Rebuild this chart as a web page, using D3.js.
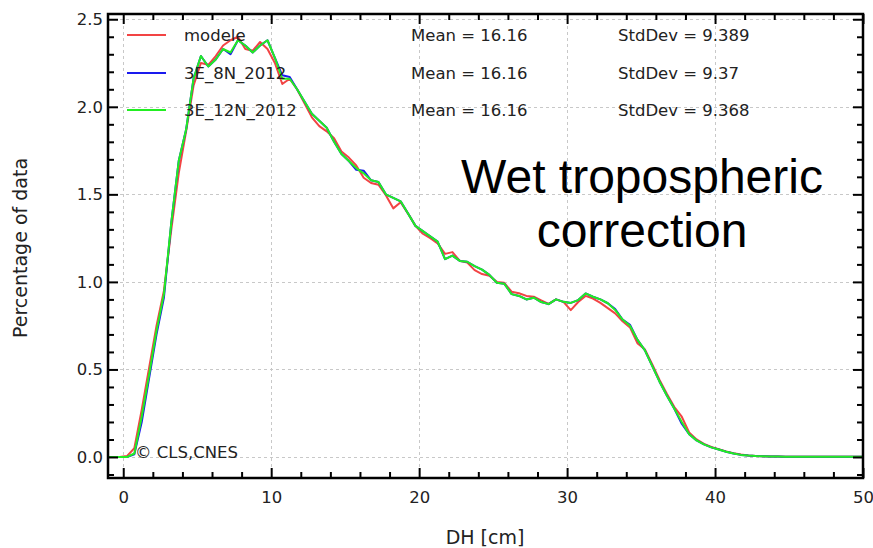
<!DOCTYPE html>
<html><head><meta charset="utf-8">
<script src="https://cdn.jsdelivr.net/npm/d3@7"></script>
<style>
html,body{margin:0;padding:0;background:#fff;}
</style></head>
<body><svg id="c" width="873" height="548"></svg>
<script>
// ---- data ----
const binCenters = [-1.25,-0.75,-0.25,0.25,0.75,1.25,1.75,2.25,2.75,3.25,3.75,4.25,4.75,5.25,5.75,6.25,6.75,7.25,7.75,8.25,8.75,9.25,9.75,10.25,10.75,11.25,11.75,12.25,12.75,13.25,13.75,14.25,14.75,15.25,15.75,16.25,16.75,17.25,17.75,18.25,18.75,19.25,19.75,20.25,20.75,21.25,21.75,22.25,22.75,23.25,23.75,24.25,24.75,25.25,25.75,26.25,26.75,27.25,27.75,28.25,28.75,29.25,29.75,30.25,30.75,31.25,31.75,32.25,32.75,33.25,33.75,34.25,34.75,35.25,35.75,36.25,36.75,37.25,37.75,38.25,38.75,39.25,39.75,40.25,40.75,41.25,41.75,42.25,42.75,43.25,43.75,44.25,44.75,45.25,45.75,46.25,46.75,47.25,47.75,48.25,48.75,49.25,49.75,50.25];

const modele = [0,0,0,0.005,0.05,0.27,0.51,0.75,0.95,1.30,1.62,1.86,2.12,2.25,2.24,2.29,2.35,2.38,2.40,2.33,2.32,2.37,2.33,2.25,2.13,2.16,2.10,2.02,1.94,1.89,1.86,1.82,1.745,1.71,1.665,1.595,1.565,1.555,1.495,1.42,1.455,1.39,1.32,1.275,1.25,1.22,1.16,1.17,1.12,1.11,1.067,1.045,1.035,1.0,0.995,0.944,0.935,0.92,0.915,0.895,0.875,0.90,0.886,0.839,0.885,0.92,0.905,0.88,0.85,0.82,0.775,0.74,0.65,0.615,0.53,0.44,0.36,0.285,0.23,0.14,0.10,0.075,0.057,0.045,0.032,0.022,0.014,0.009,0.005,0.004,0.003,0.003,0.002,0.002,0.002,0.001,0.001,0.001,0.001,0.001,0.001,0.001,0.001,0.001];

const e3_8N_2012 = [0,0,0,0,0.015,0.20,0.45,0.70,0.91,1.34,1.69,1.87,2.16,2.29,2.23,2.27,2.33,2.30,2.38,2.35,2.31,2.35,2.38,2.28,2.18,2.17,2.10,2.03,1.96,1.92,1.88,1.80,1.73,1.69,1.64,1.635,1.58,1.57,1.50,1.48,1.46,1.39,1.32,1.29,1.26,1.23,1.13,1.15,1.12,1.115,1.09,1.07,1.04,0.995,0.99,0.93,0.92,0.90,0.91,0.885,0.873,0.90,0.886,0.88,0.896,0.934,0.915,0.90,0.878,0.845,0.785,0.755,0.67,0.61,0.52,0.43,0.35,0.275,0.19,0.13,0.095,0.072,0.055,0.043,0.03,0.02,0.012,0.008,0.005,0.004,0.003,0.003,0.002,0.002,0.002,0.001,0.001,0.001,0.001,0.001,0.001,0.001,0.001,0.001];

const e3_12N_2012 = [0,0,0,0,0.02,0.23,0.47,0.72,0.93,1.34,1.69,1.87,2.16,2.29,2.23,2.27,2.33,2.31,2.38,2.35,2.31,2.35,2.38,2.28,2.16,2.16,2.10,2.03,1.96,1.92,1.88,1.80,1.73,1.69,1.65,1.62,1.58,1.57,1.50,1.48,1.46,1.39,1.32,1.29,1.26,1.23,1.13,1.15,1.12,1.115,1.09,1.07,1.04,0.995,0.99,0.93,0.92,0.90,0.91,0.885,0.873,0.90,0.886,0.88,0.896,0.934,0.915,0.90,0.878,0.84,0.785,0.75,0.67,0.61,0.52,0.43,0.35,0.275,0.20,0.13,0.095,0.072,0.055,0.043,0.03,0.02,0.012,0.008,0.005,0.004,0.003,0.003,0.002,0.002,0.002,0.001,0.001,0.001,0.001,0.001,0.001,0.001,0.001,0.001];

const seriesNames = ["modele","3E_8N_2012","3E_12N_2012"];
const seriesValues = [modele, e3_8N_2012, e3_12N_2012];
const seriesColors = ["#f24444","#1a1aee","#22ee22"];
const means = ["16.16","16.16","16.16"];
const stdDevs = ["9.389","9.37","9.368"];
const xTicks = [0,10,20,30,40,50];
const yTicks = [0.0,0.5,1.0,1.5,2.0,2.5];
const xLabel = "DH [cm]";
const yLabel = "Percentage of data";
const titleLines = ["Wet tropospheric","correction"];
const credit = "\u00a9 CLS,CNES";

// ---- layout ----
const L = 108, R = 863, T = 14, B = 478;
const x = d3.scaleLinear().domain([-1.03, 50]).range([L, R]);
const y = d3.scaleLinear().domain([-0.12, 2.53]).range([B, T]);
const FONT = "DejaVu Sans, sans-serif";

const svg = d3.select("#c");

// grid
const grid = svg.append("g").attr("stroke","#c8c8c8").attr("stroke-width",1).attr("stroke-dasharray","3,3");
xTicks.forEach(t => grid.append("line").attr("x1",Math.round(x(t))+0.5).attr("x2",Math.round(x(t))+0.5).attr("y1",T).attr("y2",B));
yTicks.forEach(t => grid.append("line").attr("x1",L).attr("x2",R).attr("y1",Math.round(y(t))+0.5).attr("y2",Math.round(y(t))+0.5));

// curves
svg.append("defs").append("clipPath").attr("id","clip").append("rect").attr("x",L).attr("y",T).attr("width",R-L).attr("height",B-T);
const line = d3.line().x((d,i)=>x(binCenters[i])).y(d=>y(d));
const gLines = svg.append("g").attr("clip-path","url(#clip)");
seriesValues.forEach((vals,k)=>{
  gLines.append("path").datum(vals).attr("d",line).attr("fill","none")
    .attr("stroke",seriesColors[k]).attr("stroke-width",2).attr("stroke-linejoin","round");
});

// axes (ticks inward)
const xMinor = d3.range(0, 51, 2).filter(v => v % 10 !== 0);
const yMinor = d3.range(-1, 26).map(v => v/10).filter(v => Math.abs(v*2 - Math.round(v*2)) > 1e-6);

svg.append("g").attr("transform",`translate(0,${B})`)
  .call(d3.axisBottom(x).tickValues(xTicks).tickSize(-10).tickPadding(13).tickFormat(d3.format("d")));
svg.append("g").attr("transform",`translate(0,${B})`).call(d3.axisBottom(x).tickValues(xMinor).tickSize(-6).tickFormat(""));
svg.append("g").attr("transform",`translate(0,${T})`).call(d3.axisTop(x).tickValues(xTicks).tickSize(-10).tickFormat(""));
svg.append("g").attr("transform",`translate(0,${T})`).call(d3.axisTop(x).tickValues(xMinor).tickSize(-6).tickFormat(""));

svg.append("g").attr("transform",`translate(${L},0)`)
  .call(d3.axisLeft(y).tickValues(yTicks).tickSize(-10).tickPadding(5).tickFormat(d3.format(".1f")));
svg.append("g").attr("transform",`translate(${L},0)`).call(d3.axisLeft(y).tickValues(yMinor).tickSize(-6).tickFormat(""));
svg.append("g").attr("transform",`translate(${R},0)`).call(d3.axisRight(y).tickValues(yTicks).tickSize(-10).tickFormat(""));
svg.append("g").attr("transform",`translate(${R},0)`).call(d3.axisRight(y).tickValues(yMinor).tickSize(-6).tickFormat(""));

svg.selectAll(".domain").remove();
svg.selectAll(".tick line").attr("stroke","#000").attr("stroke-width",2);
svg.selectAll(".tick text").attr("font-size",16.5).attr("fill","#222").attr("font-family",FONT);

// frame
svg.append("rect").attr("x",L).attr("y",T).attr("width",R-L).attr("height",B-T)
  .attr("fill","none").attr("stroke","#000").attr("stroke-width",2.5);

// axis labels
svg.append("text").attr("x",485).attr("y",544).attr("text-anchor","middle")
  .attr("font-family",FONT).attr("font-size",19).attr("fill","#222").text(xLabel);
svg.append("text").attr("transform",`translate(27,248) rotate(-90)`).attr("text-anchor","middle")
  .attr("font-family",FONT).attr("font-size",19).attr("fill","#222").text(yLabel);

// legend
const legY = [35, 73, 110];
seriesNames.forEach((n,k)=>{
  svg.append("line").attr("x1",127).attr("x2",166).attr("y1",legY[k]).attr("y2",legY[k])
    .attr("stroke",seriesColors[k]).attr("stroke-width",2);
  svg.append("text").attr("x",184).attr("y",legY[k]+6).attr("font-family",FONT).attr("font-size",16.5).attr("fill","#222").text(n);
  svg.append("text").attr("x",411).attr("y",legY[k]+6).attr("font-family",FONT).attr("font-size",16.5).attr("fill","#222").text("Mean = " + means[k]);
  svg.append("text").attr("x",618).attr("y",legY[k]+6).attr("font-family",FONT).attr("font-size",16.5).attr("fill","#222").text("StdDev = " + stdDevs[k]);
});

// annotation
const TF = "Liberation Sans, Arial, sans-serif";
svg.append("text").attr("x",642).attr("y",193).attr("text-anchor","middle")
  .attr("font-family",TF).attr("font-size",48).attr("fill","#000").text(titleLines[0]);
svg.append("text").attr("x",642).attr("y",247).attr("text-anchor","middle")
  .attr("font-family",TF).attr("font-size",48).attr("fill","#000").text(titleLines[1]);

svg.append("text").attr("x",135).attr("y",458).attr("font-family",FONT).attr("font-size",16.5).attr("fill","#222").text(credit);
</script></body></html>
